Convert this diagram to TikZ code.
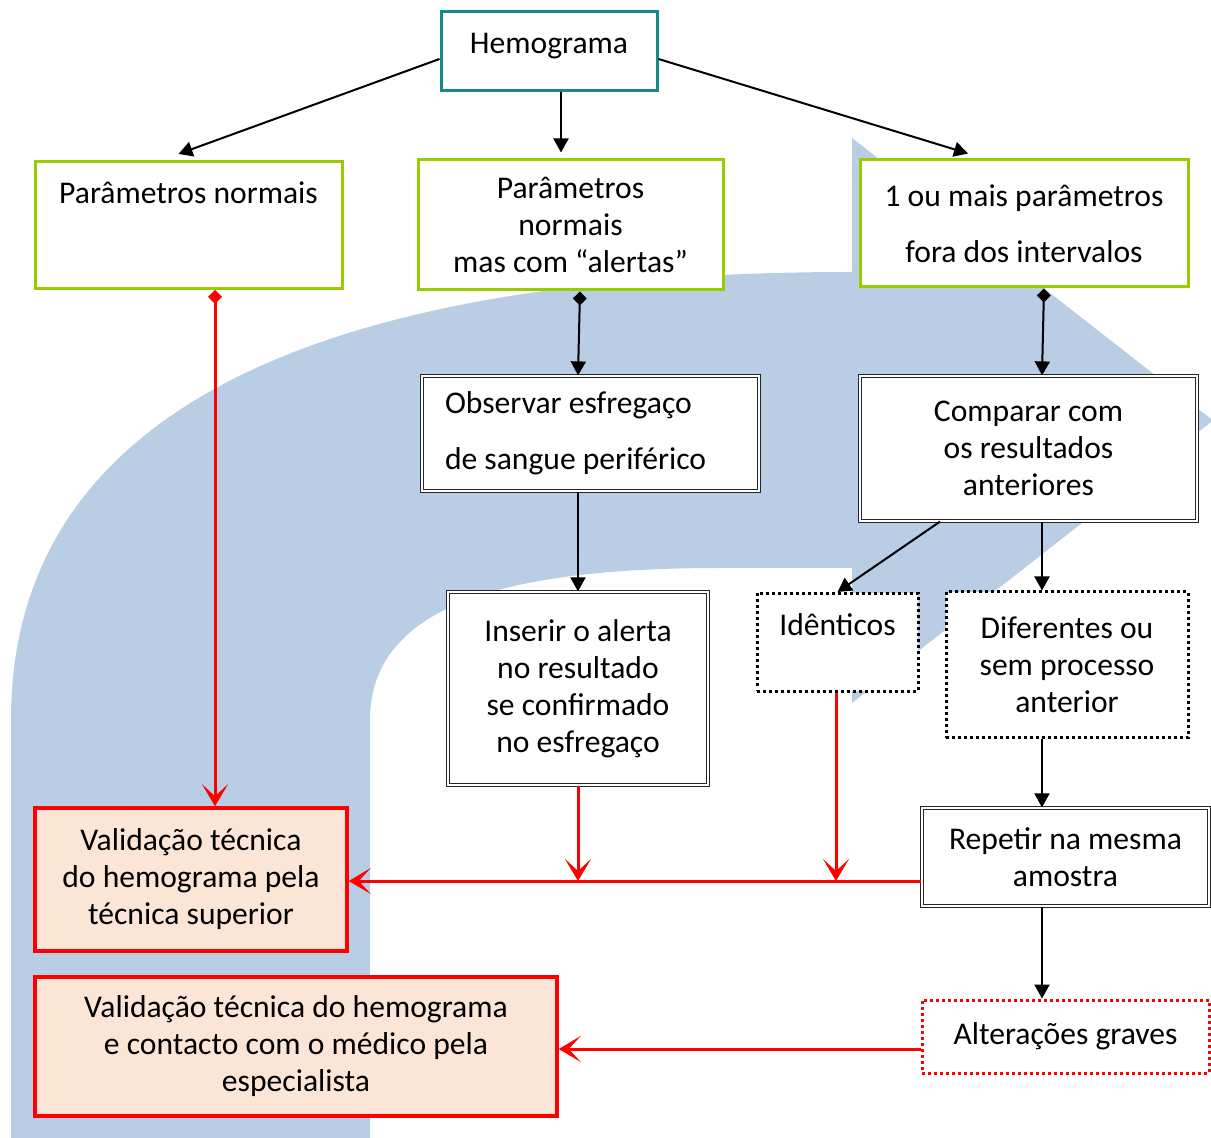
\documentclass[tikz,border=0pt]{standalone}
\usepackage{fontspec}
\setmainfont{Carlito}
\usetikzlibrary{arrows.meta}
\definecolor{tealline}{RGB}{22,138,136}
\definecolor{limegreen}{RGB}{153,204,0}
\definecolor{bandblue}{RGB}{185,205,228}
\definecolor{peach}{RGB}{251,229,214}
\tikzset{
  lbl/.style={font=\fontsize{15.8}{18.5}\selectfont, align=center, inner sep=0pt},
  tealbox/.style={lbl, draw=tealline, line width=1.5pt, fill=white},
  greenbox/.style={lbl, draw=limegreen, line width=1.5pt, fill=white},
  dblbox/.style={lbl, draw=black!85, double=white, double distance=1.2pt, line width=0.6pt, fill=white},
  dotbox/.style={lbl, draw=black, line width=1.5pt, dash pattern=on 1.5pt off 1.5pt, fill=white},
  reddotbox/.style={dotbox, draw=red},
  redbox/.style={lbl, draw=red, line width=1.75pt, fill=peach},
  arr/.style={-{Triangle[length=7pt,width=7.5pt]}, line width=1pt},
  darr/.style={{Diamond[length=7pt,width=7pt]}-{Triangle[length=7pt,width=7.5pt]}, line width=1pt},
  redarr/.style={-{Stealth[length=11pt,width=13pt,inset=6pt]}, draw=red, line width=1.5pt},
  reddarr/.style={{Diamond[length=7pt,width=7pt]}-{Stealth[length=11pt,width=13pt,inset=6pt]}, draw=red, line width=1.5pt}
}

\begin{document}
\begin{tikzpicture}[x=0.5pt, y=-0.5pt]
\useasboundingbox (0,0) rectangle (1211,1138);

% big background arrow
\fill[bandblue] (11,1138) -- (11,720) .. controls (11,420) and (300,272) .. (852,272)
  -- (852,138) -- (1213,420.5) -- (852,703) -- (852,568) -- (720,568)
  .. controls (520,568) and (370,600) .. (370,720) -- (370,1138) -- cycle;

\node [tealbox, minimum width=108pt, text height=21pt, text depth=18.5pt, anchor=north] (hemo) at (549,10) {Hemograma};

\node [greenbox, minimum width=153.5pt, text height=21pt, text depth=42.5pt, anchor=north] (pnorm) at (188.5,160) {Parâmetros normais};
\node [greenbox, minimum width=152.5pt, minimum height=65pt] (palert) at (570.5,225) {Parâmetros\\normais\\mas com “alertas”};
\node [greenbox, minimum width=164pt, minimum height=63.5pt] (pfora) at (1024,223.5) {1 ou mais parâmetros\\[9.5pt]fora dos intervalos};

\node [dblbox, text width=145.5pt, inner xsep=11.5pt, align=flush left, minimum height=57.5pt] (obs) at (590.5,433.5) {Observar esfregaço\\[9.5pt]de sangue periférico};
\node [dblbox, minimum width=168.5pt, minimum height=72.5pt] (comp) at (1028.5,448.5) {Comparar com\\os resultados\\anteriores};

\node [dblbox, minimum width=130pt, minimum height=96.5pt] (ins) at (578,688.5) {Inserir o alerta\\no resultado\\se confirmado\\no esfregaço};
\node [dotbox, minimum width=80.5pt, text height=21pt, text depth=28pt, anchor=north] (iden) at (837.5,592) {Idênticos};
\node [dotbox, minimum width=121pt, minimum height=73pt] (dif) at (1067,665) {Diferentes ou\\sem processo\\anterior};

\node [dblbox, minimum width=143.5pt, minimum height=49pt] (rep) at (1065.5,857) {Repetir na mesma\\amostra};
\node [reddotbox, minimum width=143.5pt, minimum height=36.5pt] (alt) at (1065.5,1036.5) {Alterações graves};

\node [redbox, minimum width=156pt, minimum height=71.5pt] (val1) at (191,879.5) {Validação técnica\\do hemograma pela\\técnica superior};
\node [redbox, minimum width=261pt, minimum height=69.5pt] (val2) at (296,1046.5) {Validação técnica do hemograma\\e contacto com o médico pela\\especialista};

% black connectors
\draw [arr] ([yshift=-4pt]hemo.west) -- ([xshift=-5pt,yshift=3pt]pnorm.north);
\draw [arr] ([xshift=6pt]hemo.south) -- ([xshift=6pt,yshift=3pt]hemo.south |- palert.north);
\draw [arr] ([yshift=-4pt]hemo.east) -- ([xshift=-28pt,yshift=2.5pt]pfora.north);
\draw [darr] ([xshift=4.75pt]palert.south) -- ([xshift=-6.25pt]obs.north);
\draw [darr] ([xshift=10pt]pfora.south) -- ([xshift=6.75pt]comp.north);
\draw [arr] (ins.north |- obs.south) -- (ins.north);
\draw [arr] ([xshift=-44.25pt]comp.south) -- (iden.north);
\draw [arr] ([xshift=6.75pt]comp.south) -- ([xshift=6.75pt]comp.south |- dif.north);
\draw [arr] ([xshift=-12.5pt]dif.south) -- ([xshift=-12.5pt]dif.south |- rep.north);
\draw [arr] ([xshift=-12.5pt]dif.south |- rep.south) -- ([xshift=-12.5pt]dif.south |- alt.north);

% red connectors
\coordinate (join) at ([yshift=-12pt]rep.west);
\coordinate (altw) at ([yshift=-6.25pt]alt.west);
\draw [reddarr] ([xshift=13.25pt]pnorm.south) -- ([xshift=12pt]val1.north);
\draw [redarr] (ins.south) -- (ins.south |- join);
\draw [redarr] ([xshift=-0.75pt]iden.south) -- ([xshift=-0.75pt]iden.south |- join);
\draw [redarr] (join) -- (join -| val1.east);
\draw [redarr] (altw) -- (altw -| val2.east);

\end{tikzpicture}
\end{document}
